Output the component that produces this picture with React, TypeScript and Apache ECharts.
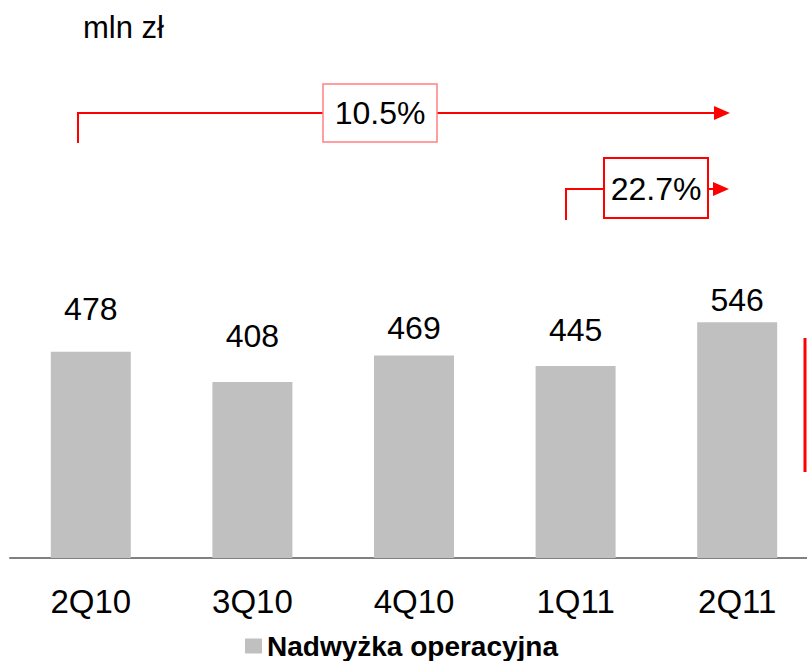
import React, { useEffect, useRef } from "react";
import * as echarts from "echarts";

const categories = ["2Q10", "3Q10", "4Q10", "1Q11", "2Q11"];
const values = [478, 408, 469, 445, 546];
const seriesName = "Nadwyżka operacyjna";
const unitLabel = "mln zł";
const growthLong = "10.5%";
const growthShort = "22.7%";

const FONT = "'Liberation Sans', Arial, sans-serif";

export default function App() {
  const ref = useRef<HTMLDivElement>(null);
  useEffect(() => {
    if (!ref.current) return;
    const chart = echarts.init(ref.current, null, { renderer: "svg" });
    const red = "#ff0000";
    // label gaps above each bar, as laid out in the original slide
    const labelDistances = [27, 30, 12, 20, 6];
    chart.setOption({
      animation: false,
      backgroundColor: "#ffffff",
      textStyle: { fontFamily: FONT },
      grid: { left: 10, width: 808, top: 299, height: 259 },
      legend: {
        data: [seriesName],
        left: 240,
        top: 627,
        icon: "rect",
        itemWidth: 17,
        itemHeight: 15,
        itemGap: 6,
        textStyle: { fontFamily: FONT, fontSize: 28, fontWeight: "bold", color: "#000" },
      },
      xAxis: {
        type: "category",
        data: categories,
        axisLine: { show: true, lineStyle: { color: "#808080", width: 2 } },
        axisTick: { show: false },
        axisLabel: { fontFamily: FONT, fontSize: 33, color: "#000", margin: 27 },
      },
      yAxis: {
        type: "value",
        min: 0,
        max: 600,
        show: false,
        splitLine: { show: false },
      },
      series: [
        {
          name: seriesName,
          type: "bar",
          data: values.map((v, i) => ({ value: v, label: { distance: labelDistances[i] } })),
          barWidth: 80,
          itemStyle: { color: "#c0c0c0" },
          label: {
            show: true,
            position: "top",
            fontFamily: FONT,
            fontSize: 32,
            color: "#000",
          },
        },
      ],
      graphic: [
        { type: "text", left: 83, top: 12, style: { text: unitLabel, fontFamily: FONT, fontSize: 31, fill: "#000" } },
        // long arrow
        { type: "polyline", shape: { points: [[78, 143], [78, 113], [716, 113]] }, style: { stroke: red, lineWidth: 2, fill: null } },
        { type: "polygon", shape: { points: [[714, 106], [730, 113], [714, 120]] }, style: { fill: red } },
        { type: "rect", shape: { x: 323, y: 84, width: 114, height: 58 }, style: { fill: "#fff", stroke: "#ff8080", lineWidth: 1.5 } },
        { type: "text", x: 380, y: 113, style: { text: growthLong, fontFamily: FONT, fontSize: 32, fill: "#000", align: "center", verticalAlign: "middle" } },
        // short arrow
        { type: "polyline", shape: { points: [[566, 220], [566, 189], [715, 189]] }, style: { stroke: red, lineWidth: 2, fill: null } },
        { type: "polygon", shape: { points: [[713, 182], [729, 189], [713, 196]] }, style: { fill: red } },
        { type: "rect", shape: { x: 604, y: 158, width: 104, height: 60 }, style: { fill: "#fff", stroke: red, lineWidth: 2 } },
        { type: "text", x: 656, y: 189, style: { text: growthShort, fontFamily: FONT, fontSize: 32, fill: "#000", align: "center", verticalAlign: "middle" } },
        // right red line
        { type: "line", shape: { x1: 805, y1: 338, x2: 805, y2: 472 }, style: { stroke: red, lineWidth: 3 } },
      ],
    });
    return () => chart.dispose();
  }, []);
  return (
    <div
      ref={ref}
      style={{ position: "fixed", left: 0, top: 0, width: 830, height: 661, background: "#fff" }}
    />
  );
}
